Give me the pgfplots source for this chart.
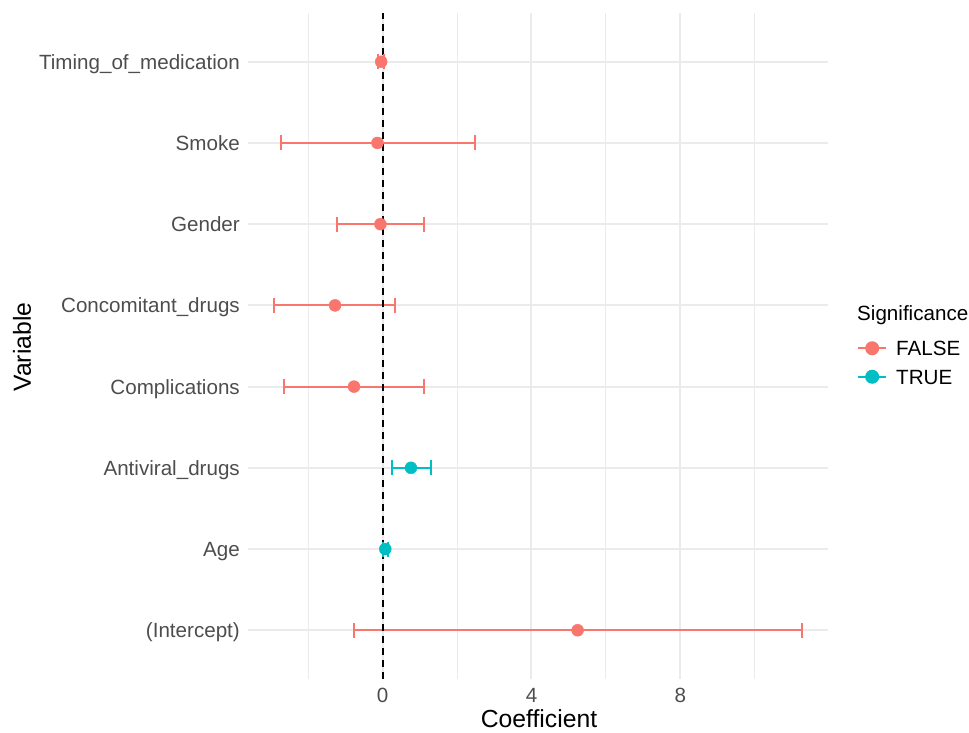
\documentclass[border=0pt]{standalone}
\usepackage{fontspec}
\setmainfont{Liberation Sans}
\usepackage{pgfplots}
\pgfplotsset{compat=1.18}
\definecolor{cfalse}{HTML}{F8766D}
\definecolor{ctrue}{HTML}{00BFC4}
\definecolor{gridc}{HTML}{EBEBEB}
\definecolor{tickc}{HTML}{4D4D4D}
\newcommand\tfont{\fontsize{20.6}{24}\selectfont}
\newcommand\lfont{\fontsize{24.7}{29}\selectfont}
\begin{document}
\begin{tikzpicture}
\useasboundingbox (0pt,0pt) rectangle (969pt,732pt);
\begin{axis}[
  at={(248pt,53pt)}, anchor=south west,
  scale only axis, width=580pt, height=666pt,
  xmin=-3.62, xmax=11.97, ymin=0.4, ymax=8.6,
  xtick={0,4,8}, minor xtick={-2,2,6,10},
  ytick={1,2,3,4,5,6,7,8},
  yticklabels={(Intercept),Age,Antiviral\_drugs,Complications,Concomitant\_drugs,Gender,Smoke,Timing\_of\_medication},
  /pgf/number format/assume math mode=true,
  grid=both,
  major grid style={gridc, line width=2pt},
  minor grid style={gridc, line width=1pt},
  axis line style={draw=none},
  tick style={draw=none},
  xticklabel style={font=\tfont, text=tickc, anchor=north, inner sep=0pt, yshift=-9pt},
  yticklabel style={font=\tfont, text=tickc, anchor=base east, inner sep=0pt, xshift=-8pt, yshift=-7.4pt},
  legend style={at={(rel axis cs:1.0448,0.4752)}, anchor=west, draw=none, fill=none,
    font=\tfont, text=black, nodes={inner sep=0pt, text height=15pt, text depth=0pt},
    row sep=13.5pt, column sep=9pt},
  legend cell align=left,
  legend image code/.code={\draw[mark repeat=2,mark phase=2,#1] plot coordinates {(0pt,0pt) (14pt,0pt) (28pt,0pt)};},
  ebf/.style={forget plot, cfalse, line width=2pt, mark=|, mark size=7.5pt, mark options={solid, line width=2pt}},
  ebt/.style={forget plot, ctrue, line width=2pt, mark=|, mark size=7.5pt, mark options={solid, line width=2pt}},
]
\addlegendimage{cfalse, line width=2pt, mark=*, mark size=6pt, mark options={draw=none}}
\addlegendentry{FALSE}
\addlegendimage{ctrue, line width=2pt, mark=*, mark size=6pt, mark options={draw=none}}
\addlegendentry{TRUE}

% confidence intervals (lower, upper)
\addplot[ebf] coordinates {(-0.12,8) (0.04,8)};
\addplot[ebf] coordinates {(-2.72,7) (2.47,7)};
\addplot[ebf] coordinates {(-1.23,6) (1.12,6)};
\addplot[ebf] coordinates {(-2.91,5) (0.34,5)};
\addplot[ebf] coordinates {(-2.64,4) (1.10,4)};
\addplot[ebt] coordinates {(0.25,3) (1.29,3)};
\addplot[ebt] coordinates {(0.01,2) (0.13,2)};
\addplot[ebf] coordinates {(-0.76,1) (11.27,1)};

% point estimates
\addplot[forget plot, cfalse, only marks, mark=*, mark size=6pt, mark options={draw=none}]
  table[x=est, y=pos] {
pos est
8 -0.04
7 -0.14
6 -0.06
5 -1.28
4 -0.77
1 5.24
};
\addplot[forget plot, ctrue, only marks, mark=*, mark size=6pt, mark options={draw=none}]
  table[x=est, y=pos] {
pos est
3 0.76
2 0.07
};
\addplot[forget plot, black, line width=1.8pt, dash pattern=on 7pt off 5pt] coordinates {(0,0.4) (0,8.6)};
\end{axis}
\node[anchor=base west, font=\tfont, inner sep=0pt] at (857pt,411.6pt) {Significance};
\node[anchor=center, font=\lfont, inner sep=0pt, rotate=90] at (22pt,385pt) {Variable};
\node[anchor=center, font=\lfont, inner sep=0pt] at (539pt,13pt) {Coefficient};
\end{tikzpicture}
\end{document}
